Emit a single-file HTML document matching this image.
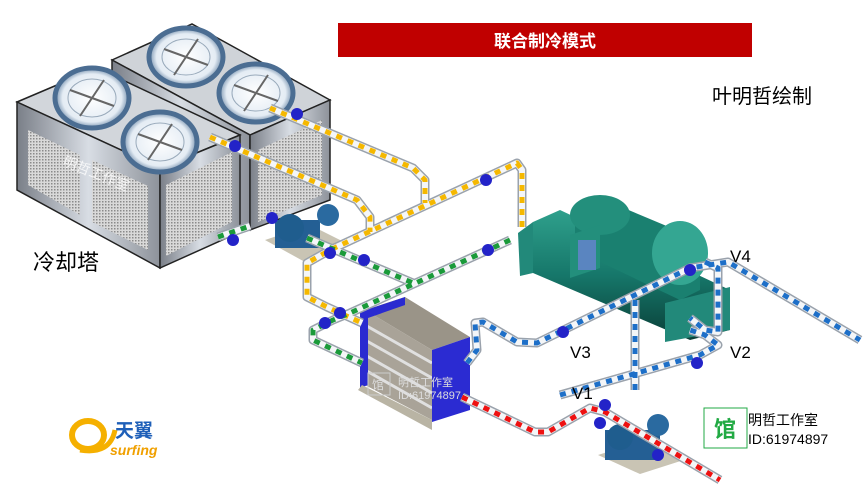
<!DOCTYPE html>
<html><head><meta charset="utf-8"><style>
html,body{margin:0;padding:0;background:#fff;width:866px;height:486px;overflow:hidden}
svg text{font-family:"Liberation Sans","Noto Sans CJK SC",sans-serif}
</style></head><body>
<svg width="866" height="486" viewBox="0 0 866 486" xmlns="http://www.w3.org/2000/svg">
<defs>
<linearGradient id="tw" x1="0" x2="1"><stop offset="0" stop-color="#7a7f88"/><stop offset=".5" stop-color="#d8dde4"/><stop offset="1" stop-color="#8d929a"/></linearGradient>
<pattern id="mesh" width="3" height="3" patternUnits="userSpaceOnUse"><rect width="3" height="3" fill="#d9d9d9"/><rect width="1.5" height="1.5" fill="#8a8a8a"/></pattern>
<radialGradient id="fan" cx=".5" cy=".5" r=".5"><stop offset="0" stop-color="#fff"/><stop offset=".8" stop-color="#e4ecf4"/><stop offset="1" stop-color="#7590ad"/></radialGradient>
<linearGradient id="teal" x1="0" y1="0" x2="0" y2="1"><stop offset="0" stop-color="#2fa08c"/><stop offset=".5" stop-color="#16776a"/><stop offset="1" stop-color="#0a3f38"/></linearGradient>
</defs>

<!-- back tower -->
<polygon points="112,60 192,24 330,100 250,135" fill="#cfd3d8" stroke="#222" stroke-width="1.5"/>
<polygon points="112,60 250,135 250,230 112,160" fill="url(#tw)" stroke="#222" stroke-width="1.5"/>
<polygon points="250,135 330,100 330,200 250,230" fill="url(#tw)" stroke="#222" stroke-width="1.5"/>
<polygon points="258,150 322,120 322,195 258,222" fill="url(#mesh)"/>
<!-- front tower -->
<polygon points="17,102 97,68 240,135 160,168" fill="#d2d6db" stroke="#222" stroke-width="1.5"/>
<polygon points="17,102 160,168 160,268 17,190" fill="url(#tw)" stroke="#222" stroke-width="1.5"/>
<polygon points="160,168 240,135 240,232 160,268" fill="url(#tw)" stroke="#222" stroke-width="1.5"/>
<polygon points="28,130 80,155 80,215 28,185" fill="url(#mesh)"/>
<polygon points="92,160 148,186 148,250 92,222" fill="url(#mesh)"/>
<polygon points="166,185 232,152 232,222 166,256" fill="url(#mesh)"/>
<text x="62" y="165" font-size="14" fill="#fff" opacity=".8" transform="rotate(22 62 165)">明哲工作室</text>
<!-- fans -->
<g stroke="#4b6d92" stroke-width="5" fill="url(#fan)">
<ellipse cx="92" cy="98" rx="37" ry="30"/><ellipse cx="160" cy="142" rx="37" ry="30"/>
<ellipse cx="186" cy="57" rx="37" ry="29"/><ellipse cx="256" cy="93" rx="37" ry="29"/>
</g>
<g fill="none" stroke="#9ab" stroke-width="1">
<ellipse cx="92" cy="98" rx="24" ry="19"/><ellipse cx="160" cy="142" rx="24" ry="19"/>
<ellipse cx="186" cy="57" rx="24" ry="18"/><ellipse cx="256" cy="93" rx="24" ry="18"/>
</g>
<g stroke="#666" stroke-width="2">
<path d="M70,90 L114,106 M80,116 L104,80 M138,134 L182,150 M148,160 L172,124 M164,49 L208,65 M174,75 L198,39 M234,85 L278,101 M244,111 L268,75"/>
</g>

<!-- title -->
<rect x="338" y="23" width="414" height="34" fill="#c00000"/>
<text x="545" y="47" font-size="17" font-weight="bold" fill="#fff" text-anchor="middle">联合制冷模式</text>
<text x="712" y="103" font-size="20" fill="#000">叶明哲绘制</text>
<text x="33" y="270" font-size="22" fill="#000">冷却塔</text>

<!-- chiller -->
<polygon points="533,222 560,210 730,290 730,330 690,340 533,273" fill="url(#teal)"/>
<polygon points="575,215 600,198 700,240 700,290 680,300 575,250" fill="#1a8070"/>
<ellipse cx="680" cy="253" rx="28" ry="32" fill="#34a692"/>
<ellipse cx="600" cy="215" rx="30" ry="20" fill="#238f7c"/>
<polygon points="570,235 600,225 600,268 570,278" fill="#238f7c"/>
<rect x="578" y="240" width="18" height="30" fill="#5a85c0"/>
<polygon points="518,233 533,222 533,273 520,276" fill="#22897a"/>
<polygon points="665,303 730,287 730,330 665,342" fill="#22897a"/>

<!-- pumps -->
<polygon points="265,240 310,225 350,245 305,262" fill="#c9c4b4"/>
<rect x="275" y="220" width="45" height="28" fill="#245f94"/>
<circle cx="290" cy="228" r="14" fill="#1f5d8e"/><circle cx="328" cy="215" r="11" fill="#2a6aa0"/>
<polygon points="598,455 645,440 690,458 640,474" fill="#c9c4b4"/>
<rect x="605" y="430" width="55" height="30" fill="#245f94"/>
<circle cx="620" cy="437" r="13" fill="#1f5d8e"/><circle cx="658" cy="425" r="11" fill="#2a6aa0"/>

<!-- heat exchanger -->
<polygon points="365,310 405,297 470,337 432,350" fill="#9a9488"/>
<polygon points="365,310 432,350 432,420 365,385" fill="#a9a398"/>
<g stroke="#e0e0e0" stroke-width="3"><path d="M365,325 L432,363 M365,340 L432,378 M365,355 L432,393 M365,370 L432,408"/></g>
<polygon points="360,312 405,297 405,305 368,318 368,385 360,388" fill="#2a2ad0"/>
<polygon points="432,350 470,337 470,410 432,422" fill="#2b2bd2"/>
<polygon points="358,390 432,430 432,420 362,385" fill="#b9b4a4"/>
<rect x="368" y="373" width="22" height="22" fill="none" stroke="#ccc"/>
<text x="372" y="389" font-size="12" fill="#ddd">馆</text>
<text x="398" y="386" font-size="11" fill="#ddd">明哲工作室</text>
<text x="398" y="399" font-size="11" fill="#ddd">ID:61974897</text>

<!-- pipes -->
<g fill="none" stroke-linejoin="round">
<g id="paths">
<path id="y1" d="M270,108 L413,168 L425,180 L425,203"/>
</g>
<g stroke="#9aa2ac" stroke-width="9">
<path d="M270,108 L413,168 L425,180 L425,203"/>
<path d="M210,137 L357,200 L370,217 L370,232"/>
<path d="M522,227 L522,170 L517,163 L330,250 L307,263 L307,297 L327,307 L362,323"/>
<path d="M218,237 L250,226 M307,238 L413,283"/>
<path d="M510,240 L350,313 L333,320 L313,330 L313,340 L362,363"/>
<path d="M467,363 L477,350 L475,323 L483,322 L517,342 L537,343 L690,268 L728,262 L860,340"/>
<path d="M705,262 L718,268 L718,332 L705,330 L690,318"/>
<path d="M635,300 L635,390"/>
<path d="M560,395 L700,355 L718,345 L705,335 L690,330"/>
<path d="M462,397 L535,432 L548,432 L590,408 L605,412 L720,480"/>
</g>
<g stroke="#f4f6f8" stroke-width="6">
<path d="M270,108 L413,168 L425,180 L425,203"/>
<path d="M210,137 L357,200 L370,217 L370,232"/>
<path d="M522,227 L522,170 L517,163 L330,250 L307,263 L307,297 L327,307 L362,323"/>
<path d="M218,237 L250,226 M307,238 L413,283"/>
<path d="M510,240 L350,313 L333,320 L313,330 L313,340 L362,363"/>
<path d="M467,363 L477,350 L475,323 L483,322 L517,342 L537,343 L690,268 L728,262 L860,340"/>
<path d="M705,262 L718,268 L718,332 L705,330 L690,318"/>
<path d="M635,300 L635,390"/>
<path d="M560,395 L700,355 L718,345 L705,335 L690,330"/>
<path d="M462,397 L535,432 L548,432 L590,408 L605,412 L720,480"/>
</g>
<g stroke-width="5" stroke-dasharray="6 6">
<g stroke="#f5b800"><path d="M270,108 L413,168 L425,180 L425,203"/><path d="M210,137 L357,200 L370,217 L370,232"/><path d="M522,227 L522,170 L517,163 L330,250 L307,263 L307,297 L327,307 L362,323"/></g>
<g stroke="#1a9a3a"><path d="M218,237 L250,226 M307,238 L413,283"/><path d="M510,240 L350,313 L333,320 L313,330 L313,340 L362,363"/></g>
<g stroke="#1d6fc8"><path d="M467,363 L477,350 L475,323 L483,322 L517,342 L537,343 L690,268 L728,262 L860,340"/><path d="M705,262 L718,268 L718,332 L705,330 L690,318"/><path d="M635,300 L635,390"/><path d="M560,395 L700,355 L718,345 L705,335 L690,330"/></g>
<g stroke="#ee1111"><path d="M462,397 L535,432 L548,432 L590,408 L605,412 L720,480"/></g>
</g>
</g>
<!-- valves -->
<g fill="#2323c8">
<circle cx="235" cy="146" r="6"/><circle cx="297" cy="114" r="6"/><circle cx="233" cy="240" r="6"/><circle cx="272" cy="218" r="6"/>
<circle cx="330" cy="253" r="6"/><circle cx="364" cy="260" r="6"/><circle cx="486" cy="180" r="6"/><circle cx="488" cy="250" r="6"/>
<circle cx="340" cy="313" r="6"/><circle cx="325" cy="323" r="6"/><circle cx="563" cy="332" r="6"/><circle cx="690" cy="270" r="6"/>
<circle cx="697" cy="363" r="6"/><circle cx="605" cy="405" r="6"/><circle cx="600" cy="423" r="6"/><circle cx="658" cy="455" r="6"/>
</g>

<text x="730" y="262" font-size="17">V4</text>
<text x="570" y="358" font-size="17">V3</text>
<text x="730" y="358" font-size="17">V2</text>
<text x="572" y="399" font-size="17">V1</text>

<!-- logo -->
<ellipse cx="88" cy="435" rx="16" ry="14" fill="none" stroke="#f5b000" stroke-width="6"/>
<path d="M80,450 Q110,455 115,430" stroke="#f5b000" stroke-width="5" fill="none"/>
<text x="115" y="437" font-size="19" font-weight="bold" fill="#1e5fb8">天翼</text>
<text x="110" y="455" font-size="14" font-style="italic" font-weight="bold" fill="#f0a000">surfing</text>

<!-- watermark -->
<rect x="704" y="408" width="43" height="40" fill="#fff" stroke="#22aa44"/>
<text x="725" y="437" font-size="22" font-weight="bold" fill="#22aa44" text-anchor="middle">馆</text>
<text x="748" y="425" font-size="14">明哲工作室</text>
<text x="748" y="444" font-size="14">ID:61974897</text>
</svg>
</body></html>
